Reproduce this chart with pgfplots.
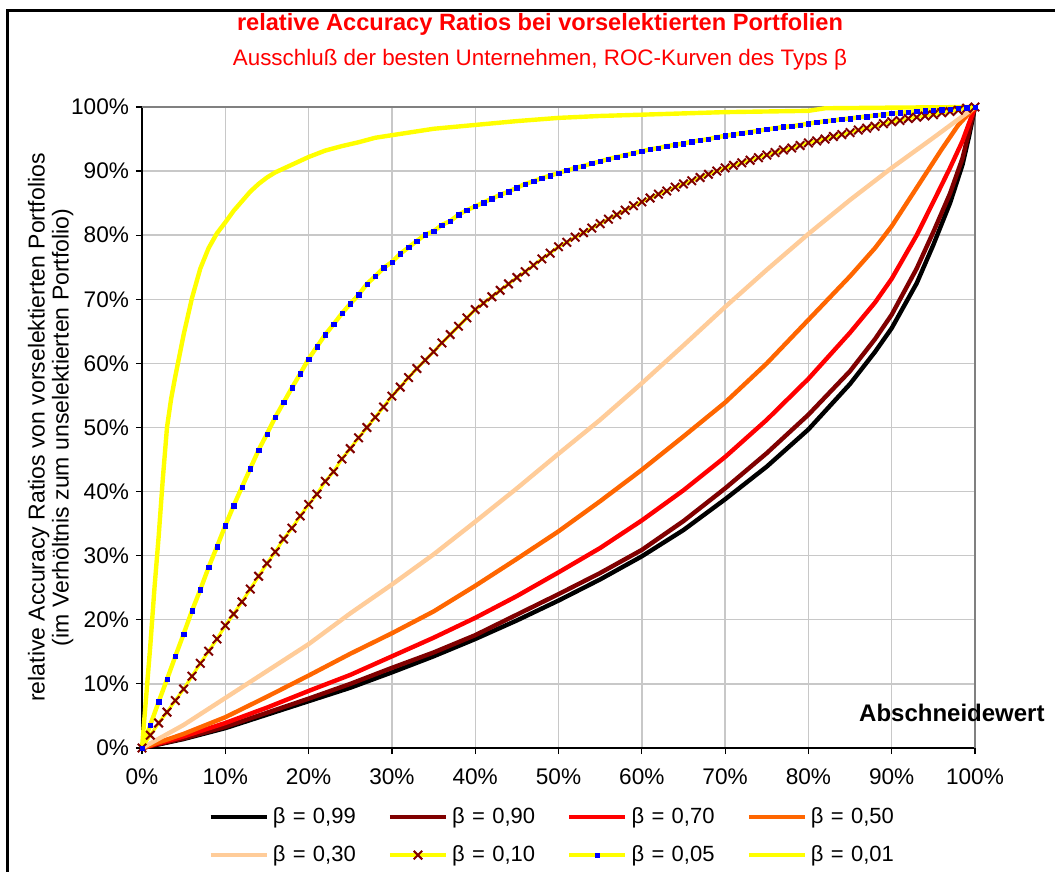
\documentclass[border=0pt]{standalone}
\usepackage{fontspec}
\setmainfont{Liberation Sans}
\usepackage{pgfplots}
\pgfplotsset{compat=1.18}
\definecolor{dkred}{RGB}{128,0,0}
\definecolor{xlorange}{RGB}{255,102,0}
\definecolor{peach}{RGB}{255,204,153}
\definecolor{xlyellow}{RGB}{255,255,0}
\definecolor{gridgray}{RGB}{200,200,200}
\definecolor{framegray}{RGB}{128,128,128}

\begin{document}
\begin{tikzpicture}
\path[use as bounding box] (-71pt,-62pt) rectangle (456.5pt,374pt);
% outer chart frame (cut off at right and bottom as in the original)
\draw[line width=1.5pt] (-67pt,-62pt) -- (-67pt,368.5pt);
\draw[line width=1.5pt] (-67.75pt,368.5pt) -- (456.5pt,368.5pt);
\node[red, font=\fontsize{11.8}{13}\selectfont\bfseries] at (199pt,362pt) {relative Accuracy Ratios bei vorselektierten Portfolien};
\node[red, font=\fontsize{11.2}{13}\selectfont] at (199pt,344pt) {Ausschluß der besten Unternehmen, ROC-Kurven des Typs β};
\begin{axis}[
  at={(0pt,0pt)}, anchor=south west,
  scale only axis, width=416.5pt, height=320.5pt,
  xmin=0, xmax=100, ymin=0, ymax=100,
  axis x line=bottom, axis y line=left,
  axis line style={-, black, line width=0.8pt},
  xtick={0,10,...,100}, ytick={0,10,...,100},
  tick style={black, line width=0.6pt}, tick align=outside, major tick length=3pt,
  /pgf/number format/assume math mode=true,
  xticklabel={\pgfmathprintnumber{\tick}\%},
  yticklabel={\pgfmathprintnumber{\tick}\%},
  ticklabel style={font=\fontsize{11.3}{13}\selectfont},
  xticklabel style={yshift=-4pt},
  grid=major, major grid style={gridgray, line width=0.7pt},
  clip=false,
  xlabel={Abschneidewert},
  xlabel style={at={(axis description cs:1.092,0.055)}, anchor=east, font=\fontsize{12}{14}\selectfont\bfseries},
  ylabel={relative Accuracy Ratios von vorselektierten Portfolios\\(im Verhöltnis zum unselektierten Portfolio)},
  ylabel style={align=center, at={(axis description cs:-0.074,0.5)}, anchor=south, font=\fontsize{11.5}{12}\selectfont},
  legend columns=4,
  legend cell align=left,
  legend image code/.code={\draw[mark repeat=2,mark phase=2,#1] plot coordinates {(0pt,0pt) (14pt,0pt) (28pt,0pt)};},
  legend style={draw=none, fill=none, at={(axis description cs:0.072,-0.08)}, anchor=north west,
    font=\fontsize{11}{13}\selectfont, row sep=5.5pt,
    /tikz/every even column/.append style={column sep=9.5pt, text width=46pt}},
]
\draw[framegray, line width=1pt] (rel axis cs:0,1) -- (rel axis cs:1,1) -- (rel axis cs:1,0);

% beta = 0,99
\addplot[black, line width=2.2pt, no marks] coordinates {
(0,0) (5,1.4) (10,3.1) (15,5.2) (20,7.3) (25,9.4) (30,11.8) (35,14.3) (40,17.0) (45,19.9)
(50,23.0) (55,26.3) (60,29.9) (65,34.0) (70,38.8) (75,43.9) (80,49.7) (85,56.8) (88,61.8) (90,65.5)
(93,72.5) (95,78.5) (97,85) (98.5,91) (99.3,95.5) (100,100)};
\addlegendentry{β = 0,99}
% beta = 0,90
\addplot[dkred, line width=2.2pt, no marks] coordinates {
(0,0) (5,1.5) (10,3.3) (15,5.5) (20,7.7) (25,10.0) (30,12.5) (35,14.9) (40,17.6) (45,20.8)
(50,24.0) (55,27.3) (60,30.9) (65,35.4) (70,40.5) (75,46.0) (80,52.0) (85,58.8) (88,63.8) (90,67.6)
(93,74.8) (95,80.5) (97,86.5) (98.5,92) (100,100)};
\addlegendentry{β = 0,90}
% beta = 0,70
\addplot[red, line width=2.2pt, no marks] coordinates {
(0,0) (5,1.8) (10,3.9) (15,6.3) (20,8.9) (25,11.4) (30,14.3) (35,17.2) (40,20.3) (45,23.7)
(50,27.4) (55,31.2) (60,35.5) (65,40.2) (70,45.4) (75,51.2) (80,57.6) (85,64.8) (88,69.5) (90,73.2)
(93,80.0) (95,85.2) (97,90.5) (98.5,94.7) (100,100)};
\addlegendentry{β = 0,70}
% beta = 0,50
\addplot[xlorange, line width=2.2pt, no marks] coordinates {
(0,0) (5,2.2) (10,4.8) (15,8.0) (20,11.3) (25,14.7) (30,17.9) (35,21.3) (40,25.3) (45,29.5)
(50,33.8) (55,38.5) (60,43.4) (65,48.6) (70,53.9) (75,60.0) (80,66.8) (85,73.6) (88,78.0) (90,81.4)
(92,85.4) (94,89.4) (96,93.4) (98,97.2) (100,100)};
\addlegendentry{β = 0,50}
% beta = 0,30
\addplot[peach, line width=2.2pt, no marks] coordinates {
(0,0) (5,3.6) (10,7.8) (15,12.0) (20,16.2) (25,21.0) (30,25.5) (35,30.2) (40,35.3) (45,40.5)
(50,45.9) (55,51.2) (60,56.9) (65,62.8) (70,68.8) (75,74.6) (80,80.2) (85,85.5) (90,90.5)
(95,95.2) (100,100)};
\addlegendentry{β = 0,30}
% beta = 0,10
\addplot[xlyellow, line width=1.6pt, mark=x, mark size=3pt,
  mark options={dkred, line width=1pt}] coordinates {
(0,0) (1,2.0) (2,3.9) (3,5.6) (4,7.4) (5,9.2) (6,11.2) (7,13.2) (8,15.1) (9,17.0)
(10,19.1) (11,20.9) (12,22.8) (13,24.8) (14,26.8) (15,28.8) (16,30.6) (17,32.6) (18,34.3) (19,36.2)
(20,38.0) (21,39.6) (22,41.6) (23,43.1) (24,45.1) (25,46.7) (26,48.4) (27,50.0) (28,51.6) (29,53.2)
(30,54.9) (31,56.3) (32,57.8) (33,59.2) (34,60.5) (35,61.8) (36,63.2) (37,64.5) (38,65.8) (39,67.1)
(40,68.4) (41,69.4) (42,70.4) (43,71.4) (44,72.4) (45,73.4) (46,74.3) (47,75.3) (48,76.3) (49,77.2)
(50,78.2) (51,78.9) (52,79.7) (53,80.4) (54,81.1) (55,81.8) (56,82.5) (57,83.2) (58,83.9) (59,84.6)
(60,85.2) (61,85.8) (62,86.4) (63,86.9) (64,87.5) (65,88.0) (66,88.5) (67,89.0) (68,89.5) (69,90.0)
(70,90.5) (71,90.9) (72,91.3) (73,91.7) (74,92.1) (75,92.5) (76,92.9) (77,93.3) (78,93.6) (79,94.0)
(80,94.4) (81,94.7) (82,95.0) (83,95.4) (84,95.7) (85,96.0) (86,96.4) (87,96.7) (88,97.0) (89,97.4)
(90,97.7) (91,97.9) (92,98.2) (93,98.4) (94,98.6) (95,98.8) (96,99.1) (97,99.3) (98,99.5) (99,99.8)
(100,100)};
\addlegendentry{β = 0,10}
% beta = 0,05
\addplot[xlyellow, line width=2.2pt, mark=square*, mark size=1.1pt,
  mark options={blue, line width=0.2pt}] coordinates {
(0,0) (1,3.6) (2,7.2) (3,10.7) (4,14.3) (5,17.8) (6,21.4) (7,24.7) (8,28.2) (9,31.4)
(10,34.7) (11,37.8) (12,40.7) (13,43.6) (14,46.5) (15,49.0) (16,51.6) (17,53.9) (18,56.2) (19,58.4)
(20,60.7) (21,62.6) (22,64.5) (23,66.1) (24,67.8) (25,69.3) (26,70.7) (27,72.4) (28,73.6) (29,74.9)
(30,75.8) (31,77.1) (32,78.1) (33,79.1) (34,80.1) (35,80.6) (36,81.6) (37,82.2) (38,83.2) (39,83.9)
(40,84.5) (41,85.1) (42,85.7) (43,86.3) (44,86.8) (45,87.4) (46,88.0) (47,88.4) (48,88.9) (49,89.3)
(50,89.7) (51,90.1) (52,90.5) (53,90.8) (54,91.2) (55,91.5) (56,91.9) (57,92.2) (58,92.5) (59,92.8)
(60,93.1) (61,93.4) (62,93.6) (63,93.9) (64,94.1) (65,94.3) (66,94.6) (67,94.8) (68,95.0) (69,95.3)
(70,95.5) (71,95.7) (72,95.9) (73,96.1) (74,96.3) (75,96.5) (76,96.7) (77,96.9) (78,97.0) (79,97.2)
(80,97.4) (81,97.6) (82,97.8) (83,97.9) (84,98.1) (85,98.2) (86,98.4) (87,98.5) (88,98.7) (89,98.8)
(90,99.0) (91,99.1) (92,99.2) (93,99.3) (94,99.4) (95,99.5) (96,99.6) (97,99.7) (98,99.8) (99,99.9)
(100,100)};
\addlegendentry{β = 0,05}
% beta = 0,01
\addplot[xlyellow, line width=2.2pt, no marks] coordinates {
(0,0) (0.5,8) (1,16) (1.5,25) (2,33) (2.5,42) (3,50) (3.5,54.5) (4,58) (5,64.5) (6,70.2) (7,74.8)
(8,78) (9,80.3) (10,82) (11,83.8) (12,85.3) (13,86.8) (14,88) (15,89) (16,89.8) (18,91)
(20,92.2) (22,93.2) (24,93.9) (26,94.5) (28,95.2) (30,95.6) (32,96) (35,96.6) (40,97.2)
(45,97.8) (50,98.3) (55,98.6) (60,98.8) (65,99) (70,99.2) (75,99.3) (80,99.4) (82,99.8)
(90,99.9) (100,100)};
\addlegendentry{β = 0,01}
\end{axis}
\end{tikzpicture}
\end{document}
